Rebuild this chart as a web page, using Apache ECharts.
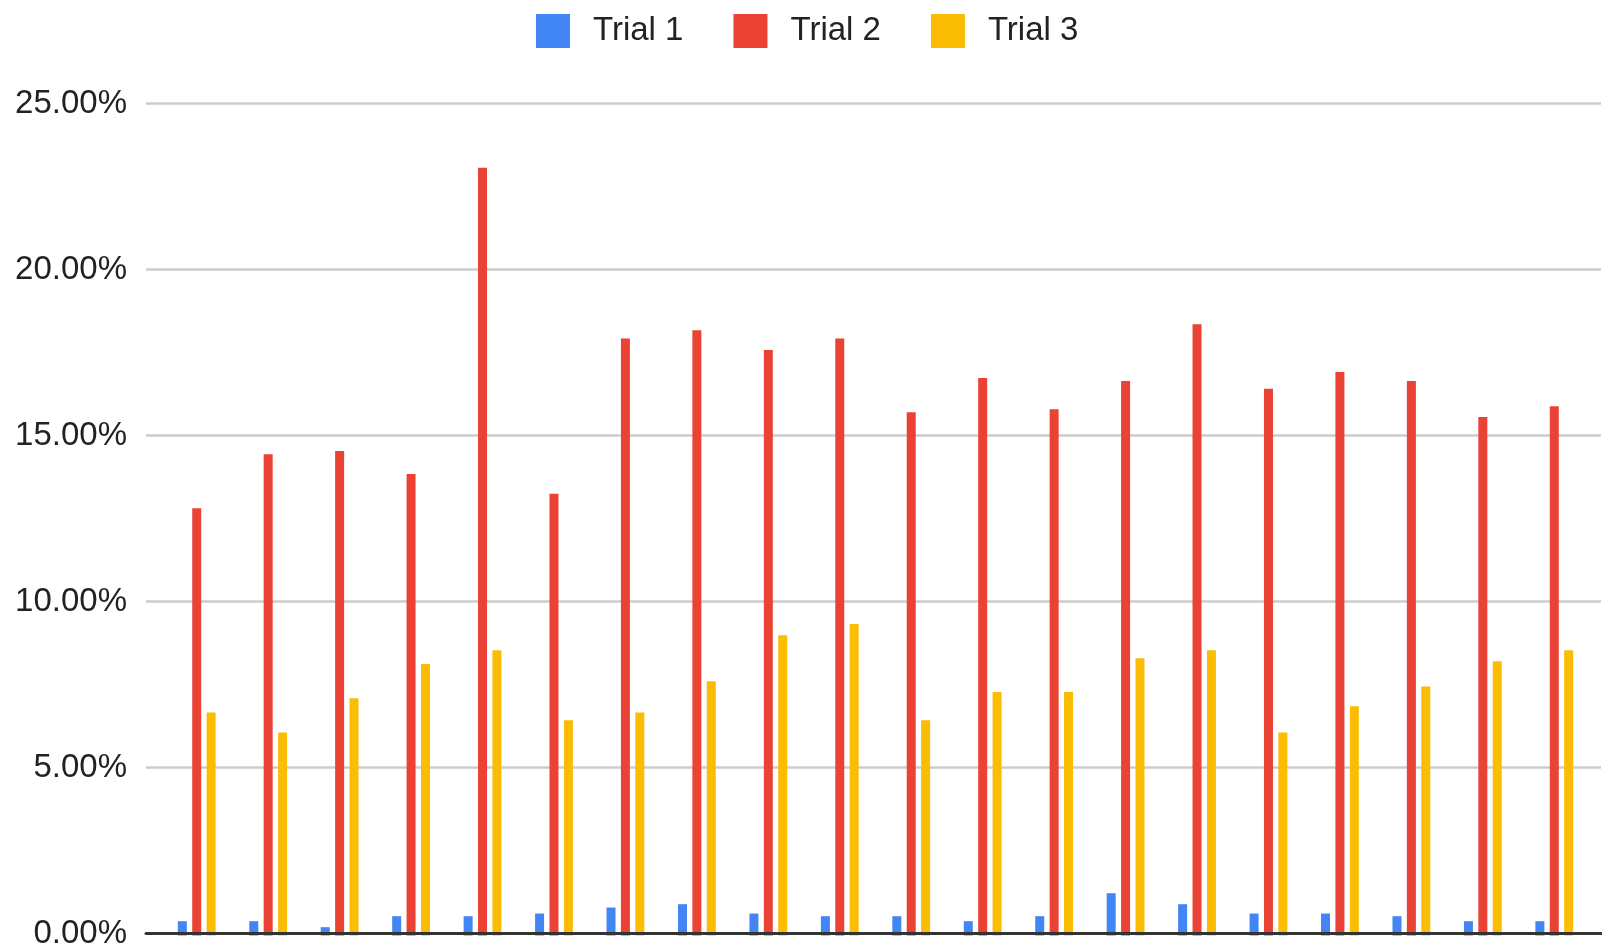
<!DOCTYPE html>
<html>
<head>
<meta charset="utf-8">
<script src="https://cdn.jsdelivr.net/npm/echarts@6/dist/echarts.min.js"></script>
<style>
  html, body { margin: 0; padding: 0; background: #fff; }
  #chart { width: 1602px; height: 950px; }
</style>
</head>
<body>
<div id="chart"></div>
<script>
const categories = ['1','2','3','4','5','6','7','8','9','10','11','12','13','14','15','16','17','18','19','20'];
const trial1 = [0.43,0.43,0.25,0.58,0.58,0.66,0.84,0.94,0.66,0.58,0.58,0.43,0.58,1.27,0.94,0.66,0.66,0.58,0.43,0.43];
const trial2 = [12.84,14.46,14.56,13.87,23.07,13.27,17.94,18.19,17.59,17.94,15.72,16.75,15.81,16.66,18.37,16.43,16.93,16.66,15.58,15.90];
const trial3 = [6.70,6.10,7.13,8.16,8.57,6.47,6.70,7.64,9.02,9.36,6.47,7.32,7.32,8.33,8.57,6.10,6.89,7.48,8.24,8.57];
const seriesNames = ['Trial 1','Trial 2','Trial 3'];
const colors = ['#4285F4','#EA4335','#FBBC04'];
const yTicks = [0, 5, 10, 15, 20, 25];

const chart = echarts.init(document.getElementById('chart'), null, { renderer: 'canvas' });
const font = '"Liberation Sans", Arial, sans-serif';
const yMin = yTicks[0], yMax = yTicks[yTicks.length - 1], yStep = yTicks[1] - yTicks[0];

const option = {
  animation: false,
  color: colors,
  legend: {
    left: 531,
    top: 9,
    icon: 'rect',
    itemWidth: 34,
    itemHeight: 34,
    itemGap: 50,
    textStyle: { fontFamily: font, fontSize: 33, color: '#222', padding: [0, 0, 0, 18] },
    data: seriesNames
  },
  grid: [
    { left: 146, right: 1, top: 103.5, bottom: 14.5 },
    { left: 161, right: 12, top: 103.5, bottom: 14.5 }
  ],
  xAxis: [
    {
      gridIndex: 0, type: 'value', min: 0, max: 1, z: 5,
      axisLine: { show: true, lineStyle: { color: '#333', width: 3 } },
      axisTick: { show: false }, axisLabel: { show: false }, splitLine: { show: false }
    },
    {
      gridIndex: 1, type: 'category', data: categories,
      axisLine: { show: false }, axisTick: { show: false }, axisLabel: { show: false }, splitLine: { show: false }
    }
  ],
  yAxis: [
    {
      gridIndex: 0, type: 'value', min: yMin, max: yMax, interval: yStep,
      axisLine: { show: false }, axisTick: { show: false },
      axisLabel: {
        margin: 19, fontFamily: font, fontSize: 33, color: '#222',
        formatter: v => v.toFixed(2) + '%'
      },
      splitLine: { lineStyle: { color: '#ccc', width: 2.5 } }
    },
    {
      gridIndex: 1, type: 'value', min: yMin, max: yMax, interval: yStep,
      show: false
    }
  ],
  series: [trial1, trial2, trial3].map((d, i) => ({
    name: seriesNames[i],
    type: 'bar',
    xAxisIndex: 1,
    yAxisIndex: 1,
    data: d,
    barWidth: 9,
    barGap: '60%',
    itemStyle: { color: colors[i] }
  }))
};
chart.setOption(option);
</script>
</body>
</html>
